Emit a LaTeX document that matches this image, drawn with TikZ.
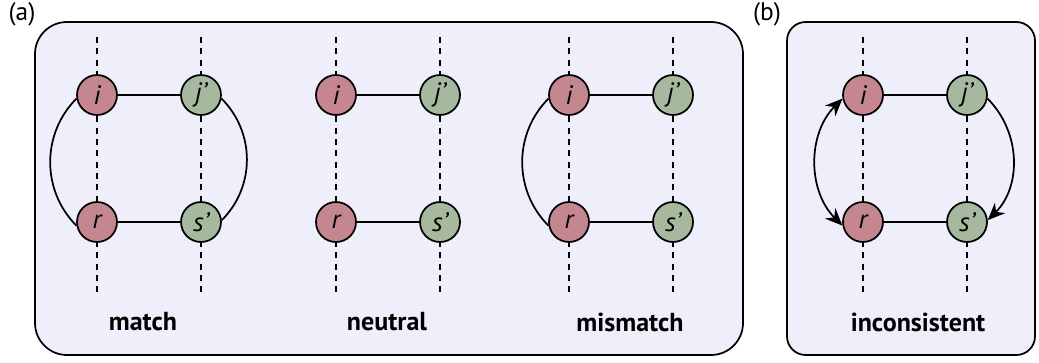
\documentclass[tikz,border=0pt]{standalone}
\usepackage{fontspec}
\setmainfont{PT Sans}
\usetikzlibrary{arrows.meta}
\usepackage{xcolor}
\definecolor{nodered}{HTML}{C4868F}
\definecolor{nodegreen}{HTML}{A6B89E}
\definecolor{panelbg}{HTML}{EFEFFC}
\tikzset{
	site/.style={draw, circle, line width=1.3pt, minimum size=30pt, inner sep=0pt, font=\fontsize{20}{22}\selectfont\itshape},
	rnode/.style={site, fill=nodered},
	gnode/.style={site, fill=nodegreen},
	vline/.style={dash pattern=on 4.5pt off 4pt, line width=1.4pt},
	panel/.style={draw, fill=panelbg, line width=1.3pt},
	caption/.style={font=\fontsize{19.5}{22}\selectfont\bfseries},
	tag/.style={font=\fontsize{19}{22}\selectfont},
	bond/.style={line width=1.3pt},
}

\begin{document}
\begin{tikzpicture}[x=0.75pt, y=0.75pt]
	\useasboundingbox (0,0) rectangle (1039,362);
	% panels
	\draw[panel, rounded corners=24pt] (35,7) rectangle (743,340);
	\draw[panel, rounded corners=14pt] (787,7) rectangle (1035,340);
	\node (ta) [tag] at (22,348) {(a)};
	\node (tb) [tag] at (767,348) {(b)};
	% four groups of sites
	\foreach \n/\x in {1/97,2/336,3/569,4/863} {
		\coordinate (ti\n) at (\x,325);
		\coordinate (bi\n) at (\x,67);
		\coordinate (tj\n) at ({\x+104},325);
		\coordinate (bj\n) at ({\x+104},67);
		\draw[vline] (ti\n) -- (bi\n);
		\draw[vline] (tj\n) -- (bj\n);
		\node (i\n) [rnode] at (\x,267) {i};
		\node (j\n) [gnode] at ({\x+104},267) {j’};
		\node (r\n) [rnode] at (\x,140) {r};
		\node (s\n) [gnode] at ({\x+104},140) {s’};
		\draw[bond] (i\n) -- (j\n);
		\draw[bond] (r\n) -- (s\n);
	}
	% match
	\draw[bond] (i1.190) to[out=225, in=135] (r1.190);
	\draw[bond] (j1.350) to[out=-45, in=45] (s1.5);
	% mismatch
	\draw[bond] (i3.190) to[out=225, in=135] (r3.190);
	% inconsistent
	\draw[bond, {Stealth[length=13pt, width=11pt]}-{Stealth[length=13pt, width=11pt]}] (i4.190) to[out=225, in=135] (r4.190);
	\draw[bond, -{Stealth[length=13pt, width=11pt]}] (j4.350) to[out=-45, in=45] (s4.5);
	% captions
	\node (cm) [caption] at (143,40) {match};
	\node (cn) [caption] at (387,40) {neutral};
	\node (cx) [caption] at (630,40) {mismatch};
	\node (ci) [caption] at (918,40) {inconsistent};
\end{tikzpicture}
\end{document}
